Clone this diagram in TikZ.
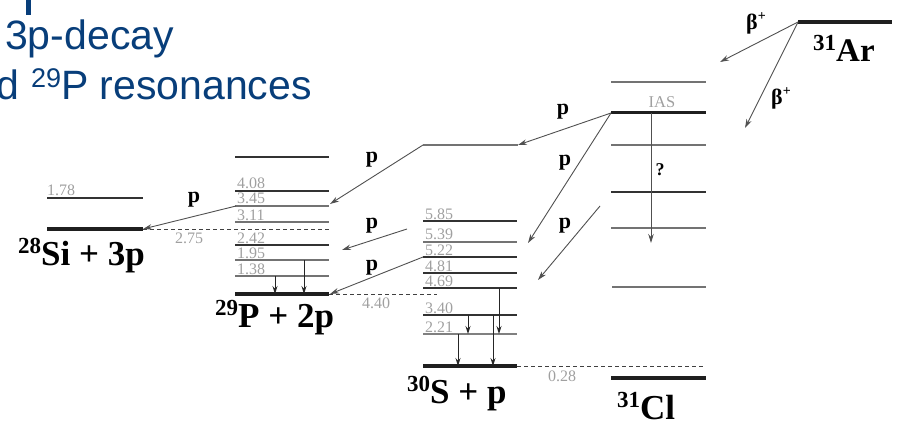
\documentclass[tikz,border=0pt]{standalone}
\usepackage{fontspec}
\setmainfont{Liberation Serif}
\newfontfamily\titlefont{Liberation Sans}
\usetikzlibrary{arrows.meta}
\definecolor{titleblue}{RGB}{8,62,122}
\definecolor{lvldark}{RGB}{50,50,50}
\definecolor{lvlgray}{RGB}{115,115,115}
\definecolor{numgray}{RGB}{160,160,160}
\definecolor{arrgray}{RGB}{80,80,80}
\newcommand\nucl[2]{\raisebox{0.34em}{\fontsize{23}{23}\selectfont #1}#2}
\newcommand\bplus{β\raisebox{0.45em}{\fontsize{14}{14}\selectfont +}}
\begin{document}
\begin{tikzpicture}[x=1pt,y=-1pt,
 lvd/.style={draw=lvldark, line width=1.2pt},
 lvg/.style={draw=lvlgray, line width=1.2pt},
 lvl/.style={draw=numgray!80!black, line width=1.2pt},
 gnd/.style={draw=black!88, line width=3.6pt},
 thr/.style={draw=black!75, dash pattern=on 4pt off 3pt, line width=0.8pt},
 pa/.style={draw=arrgray, line width=0.9pt, -{Stealth[length=9pt,width=5.5pt]}},
 ga/.style={draw=black!85, line width=0.9pt, -{Stealth[length=8pt,width=5pt]}},
 elab/.style={anchor=base west, inner sep=0, text=numgray, font=\fontsize{16}{16}\selectfont},
 plab/.style={anchor=base, inner sep=0, font=\bfseries\fontsize{22}{22}\selectfont},
 blab/.style={anchor=base west, inner sep=0, font=\bfseries\fontsize{22}{22}\selectfont},
 nuc/.style={anchor=base west, inner sep=0, font=\bfseries\fontsize{35}{40}\selectfont},
 ttl/.style={inner sep=0, text=titleblue, font=\titlefont\fontsize{41}{49}\selectfont}]
\useasboundingbox (0,0) rectangle (899,422);
\clip (0,0) rectangle (899,422);

% title (partly cut off)
\fill[titleblue] (25.8,0) rectangle (30.6,15);
\node[ttl, anchor=base west] (t1) at (5,50) {3p-decay};
\node[ttl, anchor=base east] (t2) at (312,100) {d \raisebox{0.3em}{\fontsize{27}{27}\selectfont 29}P resonances};

% 28Si column
\draw[lvd] (47,198) -- (143,198);
\draw[gnd] (47,229) -- (143,229);
\node[elab] (e178) at (47,196) {1.78};
\draw[thr] (143,229) -- (329,229);
\node[elab] (e275) at (175,243) {2.75};
\node[nuc] (si) at (18,265) {\nucl{28}{Si + 3p}};

% 29P column
\draw[lvd] (235,157) -- (329,157);
\draw[lvd] (235,191) -- (329,191);
\draw[lvg] (235,206) -- (329,206);
\draw[lvg] (235,222) -- (329,222);
\draw[lvd] (235,245) -- (329,245);
\draw[lvg] (235,260) -- (329,260);
\draw[lvg] (235,276) -- (329,276);
\draw[gnd] (235,294) -- (329,294);
\node[elab] (e408) at (237,189) {4.08};
\node[elab] (e345) at (237,204) {3.45};
\node[elab] (e311) at (237,220) {3.11};
\node[elab] (e242) at (237,243) {2.42};
\node[elab] (e195) at (237,258) {1.95};
\node[elab] (e138) at (237,274) {1.38};
\draw[thr] (329,294) -- (437,294);
\node[elab] (e440) at (362,308) {4.40};
\node[nuc] (p29) at (215,327) {\nucl{29}{P + 2p}};

% 30S column
\draw[lvg] (423,145) -- (518,145);
\draw[lvd] (423,221) -- (517,221);
\draw[lvg] (423,242) -- (517,242);
\draw[lvd] (423,257) -- (517,257);
\draw[lvd] (423,273) -- (517,273);
\draw[lvd] (423,288) -- (517,288);
\draw[lvd] (423,315) -- (517,315);
\draw[lvl] (423,334) -- (517,334);
\draw[gnd] (423,366) -- (517,366);
\node[elab] (e585) at (425,219) {5.85};
\node[elab] (e539) at (425,240) {5.39};
\node[elab] (e522) at (425,255) {5.22};
\node[elab] (e481) at (425,271) {4.81};
\node[elab] (e469) at (425,286) {4.69};
\node[elab] (e340) at (425,313) {3.40};
\node[elab] (e221) at (425,332) {2.21};
\draw[thr] (517,366) -- (705,366);
\node[elab] (e028) at (548,381) {0.28};
\node[nuc] (s30) at (407,403) {\nucl{30}{S + p}};

% 31Cl column
\draw[lvg] (611,82) -- (706,82);
\draw[black!88, line width=3pt] (611,113) -- (706,113);
\draw[lvg] (611,145) -- (706,145);
\draw[lvd] (611,192) -- (706,192);
\draw[lvg] (611,228) -- (706,228);
\draw[lvg] (612,287) -- (706,287);
\draw[gnd] (611,378) -- (706,378);
\node[inner sep=0, anchor=base, text=numgray, font=\fontsize{16.5}{16.5}\selectfont] (ias) at (662,108) {IAS};
\node[inner sep=0, anchor=base, font=\bfseries\fontsize{18}{18}\selectfont] (q) at (660,176) {?};
\node[nuc] (cl) at (617,419) {\nucl{31}{Cl}};

% 31Ar
\draw[gnd] (798,22) -- (892,22);
\node[nuc, font=\bfseries\fontsize{33}{38}\selectfont] (ar) at (813,62) {\nucl{31}{Ar}};

% named end points
\coordinate (ArL) at (798,22);
\coordinate (b1) at (720,62);
\coordinate (b2) at (745,128);
\coordinate (IASL) at (611,113);
\coordinate (IASm) at (651,113);
\coordinate (IASd) at (651,243);
\coordinate (S145R) at (518,145);
\coordinate (S145L) at (423,145);
\coordinate (P345R) at (330,204);
\coordinate (P345L) at (236,206);
\coordinate (SiR) at (143,229);
\coordinate (S539R) at (528,243);
\coordinate (c1) at (600,206);
\coordinate (c1e) at (538,280);
\coordinate (c2) at (407,229);
\coordinate (c2e) at (342,250);
\coordinate (S522L) at (423,257);
\coordinate (PgR) at (330,294);

% particle / beta arrows
\draw[pa] (ArL) -- (b1);
\draw[pa] (ArL) -- (b2);
\draw[pa] (IASL) -- (S145R);
\draw[pa] (S145L) -- (P345R);
\draw[pa] (P345L) -- (SiR);
\draw[pa] (IASL) -- (S539R);
\draw[pa] (c1) -- (c1e);
\draw[pa] (c2) -- (c2e);
\draw[pa] (S522L) -- (PgR);
\draw[pa] (IASm) -- (IASd);

% gamma arrows
\coordinate (g1a) at (275,276); \coordinate (g1b) at (275,294);
\coordinate (g2a) at (304,260); \coordinate (g2b) at (304,294);
\coordinate (g3a) at (499,288); \coordinate (g3b) at (499,334);
\coordinate (g4a) at (468,315); \coordinate (g4b) at (468,334);
\coordinate (g5a) at (458,334); \coordinate (g5b) at (458,366);
\coordinate (g6a) at (493,315); \coordinate (g6b) at (493,366);
\draw[ga] (g1a) -- (g1b);
\draw[ga] (g2a) -- (g2b);
\draw[ga] (g3a) -- (g3b);
\draw[ga] (g4a) -- (g4b);
\draw[ga] (g5a) -- (g5b);
\draw[ga] (g6a) -- (g6b);

% labels
\node[plab] (p1) at (194,203) {p};
\node[plab] (p2) at (372,163) {p};
\node[plab] (p3) at (372,228) {p};
\node[plab] (p4) at (372,270) {p};
\node[plab] (p5) at (565,166) {p};
\node[plab] (p6) at (565,228) {p};
\node[plab] (p7) at (563,115) {p};
\node[blab] (bt1) at (746,30) {\bplus};
\node[blab] (bt2) at (771,105) {\bplus};
\end{tikzpicture}
\end{document}
